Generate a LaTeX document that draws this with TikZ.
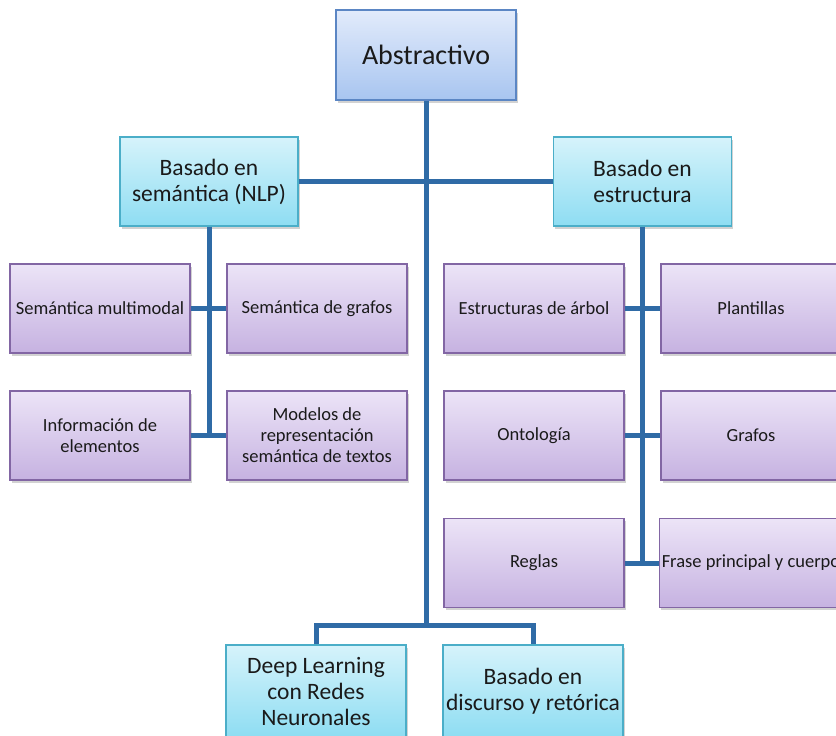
\documentclass[tikz,border=0pt]{standalone}
\usepackage{fontspec}
\setmainfont{Carlito}
\usetikzlibrary{shadows}

\definecolor{linkblue}{HTML}{2F6BA6}
\definecolor{absline}{HTML}{5B86C4}
\definecolor{abstop}{HTML}{E2EBFB}
\definecolor{absbot}{HTML}{A8C5F0}
\definecolor{cyanline}{HTML}{4BAEC8}
\definecolor{cyantop}{HTML}{D6F3FB}
\definecolor{cyanbot}{HTML}{8EDDF2}
\definecolor{purpline}{HTML}{8266A4}
\definecolor{purptop}{HTML}{ECE4F7}
\definecolor{purpbot}{HTML}{C6B2E1}
\definecolor{txt}{HTML}{1A1A1A}

\tikzset{
  box/.style={rectangle, align=center, text=txt, line width=1.2pt,
    inner sep=2pt,
    drop shadow={opacity=0.35, shadow xshift=1.5pt, shadow yshift=-2.5pt}},
  rootbox/.style={box, draw=absline, top color=abstop, bottom color=absbot,
    minimum width=180pt, minimum height=90pt,
    font=\fontsize{28}{32}\selectfont},
  catbox/.style={box, draw=cyanline, top color=cyantop, bottom color=cyanbot,
    minimum width=178pt, minimum height=89pt,
    font=\fontsize{23.5}{26}\selectfont},
  leafbox/.style={box, draw=purpline, top color=purptop, bottom color=purpbot,
    minimum width=180pt, minimum height=89pt,
    font=\fontsize{18.5}{21}\selectfont},
  conn/.style={draw=linkblue, line width=5pt}
}

\begin{document}
\begin{tikzpicture}[x=1pt, y=-1pt]
  \useasboundingbox (0,0) rectangle (836,736);
  \fill[white] (0,0) rectangle (836,736);

  % root
  \node[rootbox] (abs) at (426,55) {Abstractivo};

  % main categories
  \node[catbox] (sem) at (209,181.5) {Basado en\\semántica (NLP)};
  \node[catbox] (est) at (642.5,181.5) {Basado en\\estructura};

  % semantic branch leaves
  \node[leafbox] (mm) at (100,308.5) {Semántica multimodal};
  \node[leafbox] (sg) at (317,308.5) {Semántica de grafos};
  \node[leafbox] (ie) at (100,435.5) {Información de\\elementos};
  \node[leafbox] (mr) at (317,435.5) {Modelos de\\representación\\semántica de textos};

  % structure branch leaves
  \node[leafbox] (ea) at (534,308.5) {Estructuras de árbol};
  \node[leafbox] (pl) at (751,308.5) {Plantillas};
  \node[leafbox] (on) at (534,435.5) {Ontología};
  \node[leafbox] (gr) at (751,435.5) {Grafos};
  \node[leafbox] (re) at (534,563) {Reglas};
  \node[leafbox] (fp) at (751,563) {Frase principal y cuerpo};

  % bottom categories
  \node[catbox, minimum width=180pt, minimum height=92pt] (dl) at (316,691)
    {Deep Learning\\con Redes\\Neuronales};
  \node[catbox, minimum width=180pt, minimum height=92pt] (dr) at (533,691)
    {Basado en\\discurso y retórica};

  \coordinate (hub) at (426,625);

  % connectors
  \draw[conn] (abs.south) -- (hub);
  \draw[conn] (sem.east) -- (est.west);
  \draw[conn] (dl.north) |- (hub) -| (dr.north);

  \draw[conn] (sem.south) -- (sem.south |- ie.east);
  \draw[conn] (mm.east) -- (sg.west);
  \draw[conn] (ie.east) -- (mr.west);

  \draw[conn] (est.south) -- (est.south |- re.east);
  \draw[conn] (ea.east) -- (pl.west);
  \draw[conn] (on.east) -- (gr.west);
  \draw[conn] (re.east) -- (fp.west);
\end{tikzpicture}
\end{document}
